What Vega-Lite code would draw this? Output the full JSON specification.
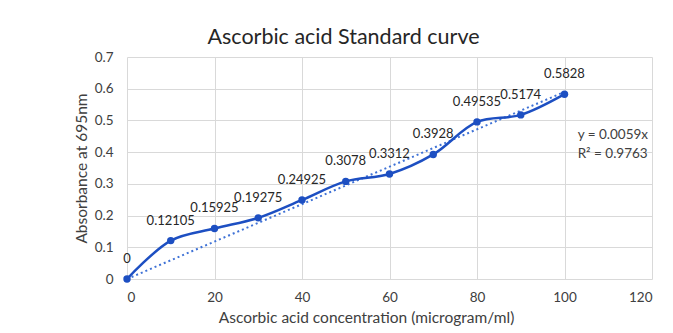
{
  "$schema": "https://vega.github.io/schema/vega-lite/v6.json",
  "width": 525,
  "height": 222,
  "autosize": "none",
  "padding": {"left": 127, "top": 57, "right": 21, "bottom": 54},
  "background": "white",
  "title": {
    "text": "Ascorbic acid Standard curve",
    "font": "Lato",
    "fontSize": 21.5,
    "fontWeight": "normal",
    "color": "#262626",
    "anchor": "middle",
    "dx": -46,
    "offset": 2
  },
  "config": {
    "view": {"stroke": null},
    "font": "Lato",
    "axis": {
      "labelFont": "Lato",
      "labelFontSize": 13.5,
      "labelColor": "#404040",
      "titleFont": "Lato",
      "titleFontSize": 15.5,
      "titleFontWeight": "normal",
      "titleColor": "#404040",
      "gridColor": "#d9d9d9",
      "gridWidth": 1,
      "domain": false,
      "ticks": false
    }
  },
  "datasets": {
    "pts": [
      {"conc": 0, "abs": 0, "label": "0"},
      {"conc": 10, "abs": 0.12105, "label": "0.12105"},
      {"conc": 20, "abs": 0.15925, "label": "0.15925"},
      {"conc": 30, "abs": 0.19275, "label": "0.19275"},
      {"conc": 40, "abs": 0.24925, "label": "0.24925"},
      {"conc": 50, "abs": 0.3078, "label": "0.3078"},
      {"conc": 60, "abs": 0.3312, "label": "0.3312"},
      {"conc": 70, "abs": 0.3928, "label": "0.3928"},
      {"conc": 80, "abs": 0.49535, "label": "0.49535"},
      {"conc": 90, "abs": 0.5174, "label": "0.5174"},
      {"conc": 100, "abs": 0.5828, "label": "0.5828"}
    ],
    "trend": [
      {"conc": 0, "abs": 0},
      {"conc": 100, "abs": 0.59}
    ],
    "eq": [
      {"conc": 103, "abs": 0.454, "text": "y = 0.0059x"},
      {"conc": 103, "abs": 0.394, "text": "R² = 0.9763"}
    ]
  },
  "encoding": {
    "x": {
      "field": "conc",
      "type": "quantitative",
      "scale": {"domain": [0, 120], "nice": false, "zero": true},
      "axis": {
        "values": [0, 20, 40, 60, 80, 100, 120],
        "title": "Ascorbic acid concentration (microgram/ml)",
        "labelPadding": 11,
        "titlePadding": 7,
        "titleX": 239
      }
    },
    "y": {
      "field": "abs",
      "type": "quantitative",
      "scale": {"domain": [0, 0.7], "nice": false},
      "axis": {
        "values": [0, 0.1, 0.2, 0.3, 0.4, 0.5, 0.6, 0.7],
        "title": "Absorbance at 695nm",
        "labelPadding": 14,
        "titlePadding": 5,
        "labelExpr": "datum.value == 0 ? '0' : format(datum.value, '.1f')"
      }
    }
  },
  "layer": [
    {
      "data": {"name": "trend"},
      "mark": {"type": "line", "color": "#3f72d6", "strokeWidth": 2, "strokeDash": [2, 3]}
    },
    {
      "data": {"name": "pts"},
      "mark": {"type": "line", "color": "#1d4fc2", "strokeWidth": 2.5, "interpolate": "catmull-rom"}
    },
    {
      "data": {"name": "pts"},
      "mark": {"type": "circle", "color": "#1d4fc2", "size": 55, "opacity": 1}
    },
    {
      "data": {"name": "pts"},
      "mark": {"type": "text", "dy": -20, "fontSize": 13, "color": "#262626", "font": "Lato"},
      "encoding": {"text": {"field": "label"}}
    },
    {
      "data": {"name": "eq"},
      "mark": {"type": "text", "align": "left", "fontSize": 13.5, "color": "#404040", "font": "Lato"},
      "encoding": {"text": {"field": "text"}}
    }
  ]
}
